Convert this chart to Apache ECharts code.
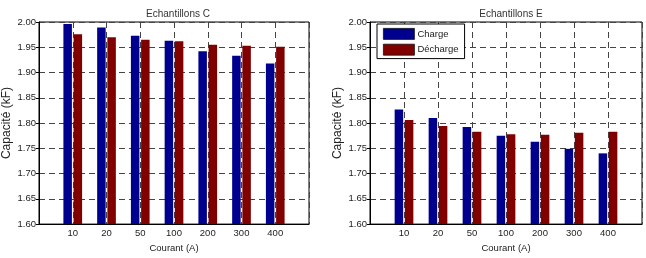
<!DOCTYPE html>
<html>
<head>
<meta charset="utf-8">
<script src="https://cdn.jsdelivr.net/npm/echarts@6/dist/echarts.min.js"></script>
<style>
  html, body { margin: 0; padding: 0; background: #fff; }
  #chart { width: 646px; height: 258px; }
</style>
</head>
<body>
<div id="chart"></div>
<script>
// courant (A)
var courant = ['10', '20', '50', '100', '200', '300', '400'];
// Echantillons C
var chargeC = [1.996, 1.989, 1.973, 1.963, 1.942, 1.933, 1.918];
var dechargeC = [1.976, 1.970, 1.965, 1.962, 1.955, 1.953, 1.951];
// Echantillons E
var chargeE = [1.827, 1.810, 1.792, 1.775, 1.763, 1.749, 1.740];
var dechargeE = [1.806, 1.794, 1.783, 1.778, 1.777, 1.781, 1.783];

var font = 'Liberation Sans, Arial, Helvetica, sans-serif';
var bleu = '#00008f';
var rouge = '#800000';

// empty slot on each side so the bars sit one step in from the box
var cats = [''].concat(courant, ['']);
function pad(arr) {
    return ['-'].concat(arr, ['-']);
}

function xAxe(idx) {
    return {
        type: 'category',
        gridIndex: idx,
        data: cats,
        boundaryGap: false,
        name: 'Courant (A)',
        nameLocation: 'middle',
        nameGap: 16,
        nameTextStyle: { fontFamily: font, fontSize: 9.5, color: '#222' },
        axisLine: { lineStyle: { color: '#000', width: 1 } },
        axisTick: { show: false },
        axisLabel: { margin: 4, fontFamily: font, fontSize: 9.5, color: '#222' },
        splitLine: { show: true, lineStyle: { color: '#444', type: [6, 4], width: 1 } }
    };
}

function yAxe(idx) {
    return {
        type: 'value',
        gridIndex: idx,
        min: 1.6,
        max: 2.0,
        interval: 0.05,
        name: 'Capacité (kF)',
        nameLocation: 'middle',
        nameGap: 26,
        nameTextStyle: { fontFamily: font, fontSize: 12, color: '#222' },
        axisLine: { show: true, lineStyle: { color: '#000', width: 1 } },
        axisTick: { show: true, length: 3, lineStyle: { color: '#000' } },
        axisLabel: {
            margin: 3, fontFamily: font, fontSize: 9.5, color: '#222',
            formatter: function (v) { return v.toFixed(2); }
        },
        splitLine: { show: true, lineStyle: { color: '#444', type: [6, 4], width: 1 } }
    };
}

function barre(nom, data, idx, couleur) {
    return {
        name: nom,
        type: 'bar',
        xAxisIndex: idx,
        yAxisIndex: idx,
        data: pad(data),
        barWidth: 8.5,
        barGap: '20%',
        itemStyle: { color: couleur },
        animation: false
    };
}

var chart = echarts.init(document.getElementById('chart'));
chart.setOption({
    animation: false,
    backgroundColor: '#fff',
    title: [
        { text: 'Echantillons C', left: 173, top: 4, textAlign: 'center',
          textStyle: { fontFamily: font, fontSize: 10, fontWeight: 'normal', color: '#333' } },
        { text: 'Echantillons E', left: 506, top: 4, textAlign: 'center',
          textStyle: { fontFamily: font, fontSize: 10, fontWeight: 'normal', color: '#333' } }
    ],
    legend: {
        data: ['Charge', 'Décharge'],
        icon: 'rect',
        orient: 'vertical',
        left: 377,
        top: 24,
        padding: [4, 6, 3, 6],
        itemWidth: 31,
        itemHeight: 11,
        itemGap: 4,
        itemStyle: { borderColor: '#111', borderWidth: 0.8 },
        backgroundColor: '#fff',
        borderColor: '#000',
        borderWidth: 1,
        borderRadius: 0,
        textStyle: { fontFamily: font, fontSize: 9.5, color: '#222', padding: [0, 0, 0, -2] }
    },
    grid: [
        { left: 37, top: 22, width: 272, height: 211, show: true, borderColor: '#000', borderWidth: 1, backgroundColor: '#fff' },
        { left: 370, top: 22, width: 272, height: 211, show: true, borderColor: '#000', borderWidth: 1, backgroundColor: '#fff' }
    ],
    xAxis: [xAxe(0), xAxe(1)],
    yAxis: [yAxe(0), yAxe(1)],
    series: [
        barre('Charge', chargeC, 0, bleu),
        barre('Décharge', dechargeC, 0, rouge),
        barre('Charge', chargeE, 1, bleu),
        barre('Décharge', dechargeE, 1, rouge)
    ]
});
</script>
</body>
</html>
